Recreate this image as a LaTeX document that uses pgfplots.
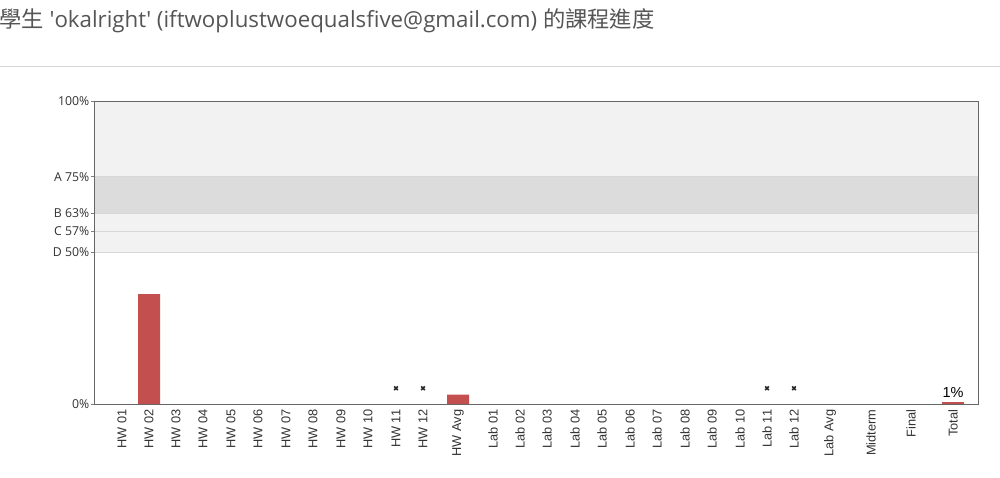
\documentclass[border=0pt]{standalone}
\usepackage{pgfplots}
\pgfplotsset{compat=1.18}
\usepackage{fontspec}
\setmainfont{Open Sans}
\newfontfamily\cjk{Noto Sans CJK TC}
\newfontfamily\arial{Liberation Sans}
\definecolor{barred}{RGB}{196,79,79}
\definecolor{titlegray}{RGB}{85,85,85}
\definecolor{bandlight}{RGB}{242,242,242}
\definecolor{banddark}{RGB}{220,220,220}
\definecolor{linegray}{RGB}{215,215,215}
\definecolor{labelgray}{RGB}{51,51,51}
\begin{document}
\begin{tikzpicture}[x=1pt,y=1pt]
\path[use as bounding box] (0,0) rectangle (1000,477);
\node[anchor=west,inner sep=0pt,text=titlegray,font=\fontsize{22.3}{26}\selectfont] at (-1,456) {{\cjk 學生} \textquotesingle okalright\textquotesingle{} (iftwoplustwoequalsfive@gmail.com) {\cjk 的課程進度}};
\draw[linegray,line width=0.8pt] (0,411) -- (1000,411);
\begin{axis}[
  at={(94pt,73pt)}, anchor=south west,
  width=884pt, height=303pt, scale only axis,
  xmin=94, xmax=978, ymin=0, ymax=100,
  axis on top,
  axis line style={draw=gray!80!black, line width=0.8pt},
  axis background/.style={fill=white},
  xtick={122,149,176,203,231,258,286,313,341,368,396,423,458,493,520,547,575,602,630,657,685,712,740,767,794,830,871,911,953},
  xticklabels={HW 01,HW 02,HW 03,HW 04,HW 05,HW 06,HW 07,HW 08,HW 09,HW 10,HW 11,HW 12,HW Avg,Lab 01,Lab 02,Lab 03,Lab 04,Lab 05,Lab 06,Lab 07,Lab 08,Lab 09,Lab 10,Lab 11,Lab 12,Lab Avg,Midterm,Final,Total},
  x tick label style={rotate=90, anchor=east, font=\arial\fontsize{12.8}{14}\selectfont, text=labelgray, inner sep=2.5pt},
  xtick style={draw=none},
  ytick={0,50,57,63,75,100},
  yticklabels={0\%,D 50\%,C 57\%,B 63\%,A 75\%,100\%},
  ytick pos=left,
  y tick label style={font=\fontsize{12.3}{14}\selectfont, text=labelgray, inner sep=1.5pt},
  ytick style={draw=gray, line width=0.5pt},
  tick align=outside, major tick length=3pt,
  clip=false,
]
\fill[bandlight] (axis cs:94,75) rectangle (axis cs:978,100);
\fill[banddark] (axis cs:94,63) rectangle (axis cs:978,75);
\fill[bandlight] (axis cs:94,50) rectangle (axis cs:978,63);
\draw[linegray,line width=0.6pt] (axis cs:94,75) -- (axis cs:978,75);
\draw[linegray,line width=0.6pt] (axis cs:94,63) -- (axis cs:978,63);
\draw[linegray,line width=0.6pt] (axis cs:94,57) -- (axis cs:978,57);
\draw[linegray,line width=0.6pt] (axis cs:94,50) -- (axis cs:978,50);
\addplot[ybar, bar width=22pt, fill=barred, draw=none] coordinates {(149,36.3) (458,3.1)};
\addplot[ybar, bar width=22pt, fill=barred, draw=none, nodes near coords={1\%}, every node near coord/.style={font=\arial\fontsize{14.5}{16}\selectfont, text=black, anchor=south, inner sep=4.5pt}] coordinates {(953,0.6)};
\addplot[only marks, mark=x, mark size=2.6pt, black!85, line width=1.5pt] coordinates {(396,5.2) (423,5.2) (767,5.2) (794,5.2)};
\end{axis}
\end{tikzpicture}
\end{document}
